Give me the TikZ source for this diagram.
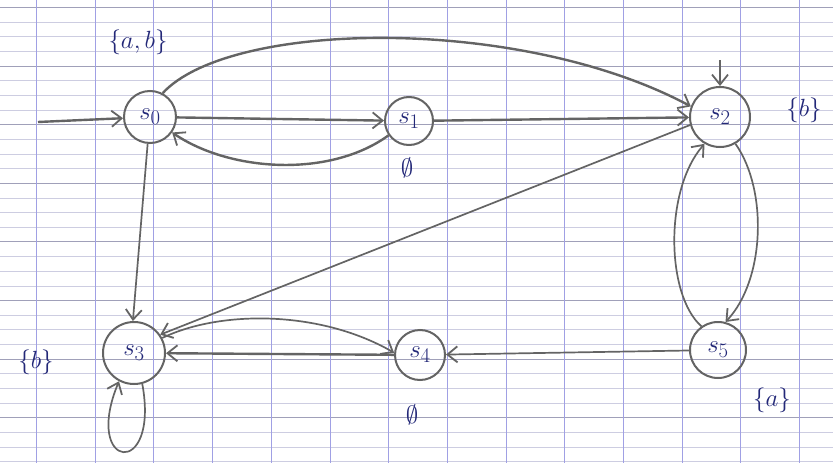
\documentclass[tikz,border=0pt]{standalone}
\usetikzlibrary{arrows.meta}
\definecolor{ink}{RGB}{35,40,120}
\definecolor{pencil}{RGB}{100,100,100}
\definecolor{gridv}{RGB}{160,160,228}
\definecolor{gridh}{RGB}{205,205,225}
\definecolor{gridhd}{RGB}{160,160,185}
\begin{document}
\begin{tikzpicture}[x=1pt,y=-1pt,
  state/.style={circle,draw=pencil,line width=2pt,minimum size=52pt,inner sep=0pt,text=ink,font=\fontsize{31}{34}\selectfont},
  lbl/.style={text=ink,font=\fontsize{26}{30}\selectfont},
  edge/.style={draw=pencil,line width=2.4pt,-{Straight Barb[length=10pt,width=16pt,line width=1.8pt]}},
  thin edge/.style={edge,line width=1.7pt}]
\useasboundingbox (0,0) rectangle (833,463);
\fill[white] (0,0) rectangle (833,463);
% graph paper
\foreach \k in {0,...,31}{
  \pgfmathsetmacro{\yy}{7.5+14.65*\k}
  \pgfmathtruncatemacro{\m}{mod(\k,4)}
  \ifnum\m=0
    \draw[gridhd,line width=0.9pt] (0,\yy) -- (833,\yy);
  \else
    \draw[gridh,line width=0.7pt] (0,\yy) -- (833,\yy);
  \fi
}
\foreach \k in {0,...,13}{
  \draw[gridv,line width=0.9pt] ({36.5+58.7*\k},0) -- ({36.5+58.7*\k},463);
}
% states
\node[state] (s0) at (150,117) {$s_0$};
\node[state,minimum size=48pt] (s1) at (409,121) {$s_1$};
\node[state,minimum size=60pt] (s2) at (720,117) {$s_2$};
\node[state,minimum size=62pt] (s3) at (134,353) {$s_3$};
\node[state,minimum size=50pt] (s4) at (420,355) {$s_4$};
\node[state,minimum size=56pt] (s5) at (718,350) {$s_5$};
% labels
\node[lbl] (l0) at (138,42) {$\{a,b\}$};
\node[lbl] (l1) at (407,168) {$\emptyset$};
\node[lbl] (l2) at (804,110) {$\{b\}$};
\node[lbl] (l3) at (36,362) {$\{b\}$};
\node[lbl] (l4) at (412,415) {$\emptyset$};
\node[lbl] (l5) at (772,400) {$\{a\}$};
% initial arrows
\coordinate (i0) at (38,122);
\coordinate (i2) at (720,60);
\draw[edge] (i0) -- (s0);
\draw[thin edge] (i2) -- (s2);
% transitions
\draw[edge] (s0) -- (s1);
\draw[edge] (s1.215) .. controls (330,178) and (230,172) .. (s0.-35);
\draw[edge] (s0.62) .. controls (230,20) and (520,15) .. (s2.160);
\draw[edge] (s1) -- (s2);
\draw[thin edge] (s2.195) -- (s3.35);
\draw[thin edge] (s0.-95) -- (s3.92);
\draw[thin edge] (s3.28) .. controls (220,310) and (320,310) .. (s4.175);
\draw[edge] (s4) -- (s3);
\draw[thin edge] (s5) -- (s4);
\draw[thin edge] (s2.-60) .. controls (768,190) and (765,280) .. (s5.75);
\draw[thin edge] (s5.125) .. controls (666,295) and (664,190) .. (s2.-120);
\draw[thin edge] (s3.-75) .. controls (160,480) and (82,470) .. (s3.-118);
\end{tikzpicture}
\end{document}
